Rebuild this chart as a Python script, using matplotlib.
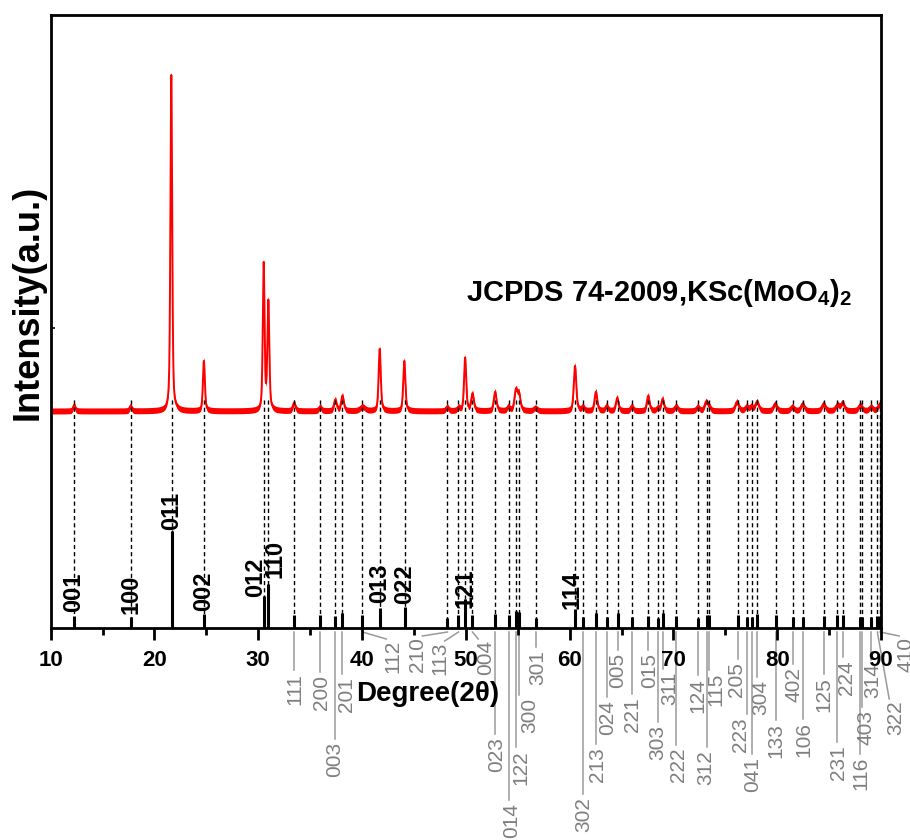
import numpy as np
import matplotlib
matplotlib.use("Agg")
import matplotlib.pyplot as plt

plt.rcParams['font.family'] = ['Liberation Sans', 'DejaVu Sans']
plt.rcParams['mathtext.fontset'] = 'custom'
plt.rcParams['mathtext.rm'] = 'Liberation Sans:bold'
plt.rcParams['mathtext.bf'] = 'Liberation Sans:bold'
plt.rcParams['mathtext.it'] = 'Liberation Sans:bold'

# JCPDS 74-2009 KSc(MoO4)2 reference lines
ref_2theta = [12.25, 17.71, 21.66, 24.77, 30.56, 30.98, 33.45, 35.96, 37.41, 38.11,
              40.04, 41.71, 44.12, 48.23, 49.29, 49.93, 50.64, 52.82, 54.11, 54.85,
              55.14, 56.75, 60.51, 61.28, 62.53, 63.59, 64.62, 66.00, 67.57, 68.54,
              68.96, 70.24, 72.39, 73.23, 73.45, 76.19, 77.05, 77.53, 78.05, 79.88,
              81.49, 82.45, 84.47, 85.76, 86.30, 87.95, 88.15, 89.04, 89.65, 89.90]
ref_int = [12, 11, 100, 14, 33, 45, 13, 13, 12, 15,
           13, 21, 22, 10, 13, 30, 13, 14, 13, 18,
           17, 10, 20, 11, 15, 11, 15, 11, 12, 10,
           15, 12, 10, 13, 13, 13, 11, 11, 14, 13,
           11, 11, 12, 13, 13, 11, 11, 11, 12, 12]
ref_hkl = ["001", "100", "011", "002", "012", "110", "111", "200", "003", "201",
           "112", "013", "022", "210", "113", "121", "004", "023", "014", "122",
           "300", "301", "114", "302", "213", "024", "005", "221", "015", "303",
           "311", "222", "124", "312", "115", "205", "223", "041", "304", "133",
           "402", "106", "125", "231", "224", "116", "403", "314", "322", "410"]
strong_hkl = ["001", "100", "011", "002", "012", "110", "013", "022", "121", "114"]

# measured pattern: peak position, height (a.u.), fwhm (deg)
obs_2theta = [12.25, 17.70, 21.62, 24.76, 30.52, 30.97, 33.45, 35.96, 37.42, 38.11,
              40.04, 41.70, 44.07, 48.20, 49.30, 49.93, 50.64, 52.82, 54.10, 54.82,
              55.12, 56.70, 60.52, 61.28, 62.53, 63.57, 64.58, 66.00, 67.57, 68.50,
              68.96, 70.26, 72.35, 73.15, 73.45, 76.12, 77.05, 77.50, 78.05, 79.80,
              81.45, 82.45, 84.47, 85.80, 86.30, 88.00, 89.04, 89.85]
obs_height = [6, 5, 336, 50, 146, 108, 8, 4, 11, 15,
              4, 62, 50, 4, 3, 53, 17, 19, 4, 20,
              16, 3, 45, 4, 19, 5, 13, 5, 15, 3,
              12, 5, 4, 9, 4, 9, 4, 4, 9, 7,
              4, 7, 7, 6, 8, 6, 4, 6]
obs_fwhm = [0.25, 0.25, 0.2, 0.22, 0.2, 0.22, 0.3, 0.3, 0.3, 0.3,
            0.6, 0.24, 0.24, 0.3, 0.3, 0.24, 0.3, 0.3, 0.3, 0.32,
            0.32, 0.4, 0.28, 0.3, 0.3, 0.3, 0.3, 0.3, 0.3, 0.3,
            0.3, 0.35, 0.35, 0.35, 0.3, 0.4, 0.35, 0.35, 0.4, 0.4,
            0.4, 0.4, 0.4, 0.4, 0.4, 0.4, 0.4, 0.4]
obs_baseline = 217

# label layout: strong labels (dx deg, gap px); weak labels (label x deg, drop px)
strong_layout = {"001": (0, 4), "011": (0, 1), "012": (-0.84, -1), "110": (0.6, 6),
                 "013": (0, 5), "121": (0, -9), "114": (-0.28, 0)}
weak_layout = {
    "111": (33.44, 45), "200": (35.94, 47), "003": (37.25, 114), "201": (38.35, 49),
    "112": (42.88, 12), "210": (45.26, 9), "113": (47.41, 14), "004": (51.74, 12),
    "023": (52.80, 109), "014": (54.25, 175), "122": (55.21, 122), "300": (56.08, 70),
    "301": (56.82, 22), "302": (61.28, 169), "213": (62.60, 119), "024": (63.56, 72),
    "005": (64.53, 25), "221": (65.97, 69), "015": (67.54, 25), "303": (68.41, 97),
    "311": (69.57, 44), "222": (70.34, 120), "124": (72.23, 50), "312": (73.03, 122),
    "115": (74.00, 45), "205": (75.92, 34), "223": (76.33, 89), "041": (77.53, 129),
    "304": (78.33, 52), "133": (79.78, 95), "402": (81.51, 39), "106": (82.47, 94),
    "125": (84.40, 49), "231": (85.75, 117), "224": (86.52, 32), "116": (87.96, 129),
    "403": (88.44, 82), "314": (89.09, 35), "322": (91.34, 72), "410": (92.30, 9),
}

W, H = 910, 840
fig = plt.figure(figsize=(W / 100, H / 100), dpi=100)
ax = fig.add_axes([50.7 / W, 212 / H, 830.3 / W, 613 / H])
ax.set_xlim(10, 90)
ax.set_ylim(0, 613)  # 1 unit = 1 pixel

# observed pattern built from the peak list
tt = np.arange(10, 90.001, 0.005)
y = np.full_like(tt, float(obs_baseline))
for c, h, w in zip(obs_2theta, obs_height, obs_fwhm):
    d = (tt - c) / w
    y += h * (0.5 / (1 + 4 * d ** 2) + 0.5 * np.exp(-4 * np.log(2) * d ** 2))
ax.fill_between(tt, y - 3.0, y + 3.0, color="red", lw=0, zorder=2)
ax.plot(tt, y, color="red", lw=1.4, zorder=2)

# reference sticks and dashed guides
scale = 0.97
tops = [scale * v for v in ref_int]
ax.vlines(ref_2theta, 0, 230, colors="k", linestyles=(0, (3, 2.2)), lw=1.0, zorder=3)
ax.vlines(ref_2theta, 0, tops, colors="k", lw=2.2, zorder=4)

for pos, top, hkl in zip(ref_2theta, tops, ref_hkl):
    if hkl in strong_hkl:
        dx, gap = strong_layout.get(hkl, (0, 3))
        ax.text(pos + dx, top + gap, hkl, rotation=90, ha="center", va="bottom",
                fontsize=17, fontweight="bold", zorder=5)
    else:
        lx, drop = weak_layout[hkl]
        if abs(lx - pos) < 1.0:
            xs, ys = [pos, pos], [-4, -(drop - 3)]
        else:
            ex = lx - np.sign(lx - pos) * 0.55
            xs, ys = [pos, ex], [-4, -(drop - 1)]
        ax.plot(xs, ys, color="#9a9a9a", lw=1.1, clip_on=False, zorder=1)
        ax.text(lx + 0.12, -drop, hkl, rotation=90, ha="center", va="top",
                fontsize=15, color="#7f7f7f")

for s in ax.spines.values():
    s.set_linewidth(2.0)
ax.set_xticks(np.arange(10, 91, 10))
ax.set_xticks(np.arange(15, 90, 10), minor=True)
ax.tick_params(axis="x", which="major", direction="out", length=8.6, width=2,
               pad=7, labelsize=16)
ax.tick_params(axis="x", which="minor", direction="out", length=5, width=2)
for lab in ax.get_xticklabels():
    lab.set_fontweight("bold")
ax.set_yticks([300])
ax.tick_params(axis="y", direction="in", length=3, width=1.2, labelleft=False)

fig.text(428 / W, 1 - 694 / H, "Degree(2\u03b8)", ha="center", va="center",
         fontsize=20, fontweight="bold")
fig.text(28 / W, 1 - 302 / H, "Intensity(a.u.)", rotation=90, ha="center",
         va="center", fontsize=26, fontweight="bold")
fig.text(659 / W, 1 - 293 / H, r"JCPDS 74-2009,KSc(MoO$_{4}$)$_{2}$",
         ha="center", va="center", fontsize=21, fontweight="bold")

fig.savefig("out.png", dpi=100)
